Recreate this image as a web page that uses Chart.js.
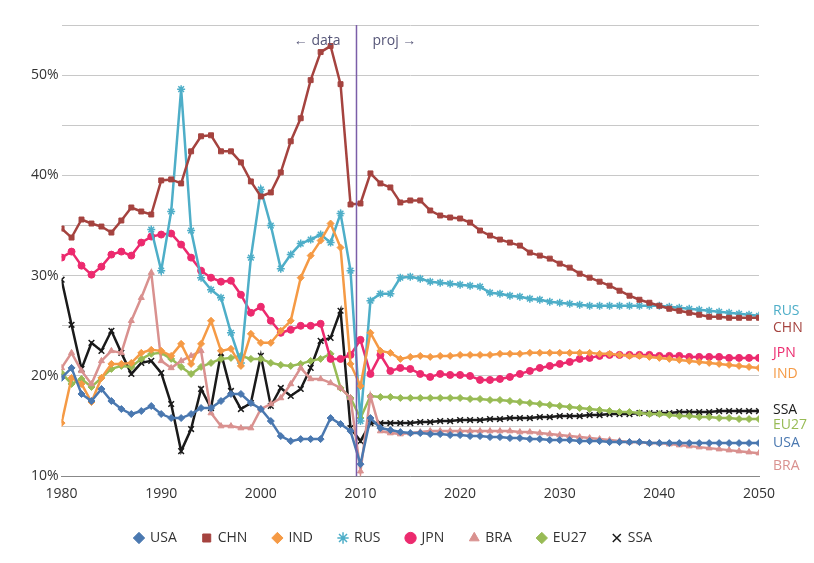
<!DOCTYPE html>
<html lang="en">
<head>
  <meta charset="UTF-8" />
  <title>Shares</title>
  <script src="https://cdn.jsdelivr.net/npm/chart.js"></script>
  <style>
    body { margin: 0; background: #fff; font-family: "Open Sans", Arial, sans-serif; }
    .wrap { position: relative; width: 814px; height: 563px; }
  </style>
</head>
<body>
  <div class="wrap"><canvas id="c"></canvas></div>
  <script>
    // years 1980..2050
    const years = [];
    for (let y = 1980; y <= 2050; y++) years.push(y);

    const usa = [19.8,20.8,18.2,17.5,18.7,17.5,16.7,16.2,16.5,17.0, 16.2,15.8,15.8,16.2,16.8,16.8,17.5,18.2,18.2,17.3, 16.7,15.5,14.0,13.5,13.7,13.7,13.7,15.8,15.2,14.5,
      11.2,15.8,14.8,14.6,14.4,14.3,14.3,14.2,14.2,14.1, 14.1,14.0,14.0,13.9,13.9,13.8,13.8,13.7,13.7,13.6, 13.6,13.6,13.5,13.5,13.5,13.4,13.4,13.4,13.4,13.3, 13.3,13.3,13.3,13.3,13.3,13.3,13.3,13.3,13.3,13.3,13.3];
    const chn = [34.7,33.8,35.6,35.2,34.9,34.3,35.5,36.8,36.4,36.1, 39.5,39.6,39.2,42.4,43.9,44.0,42.4,42.4,41.3,39.4, 37.9,38.3,40.3,43.4,45.7,49.5,52.3,52.9,49.1,37.1,
      37.2,40.2,39.2,38.8,37.3,37.5,37.5,36.5,36.0,35.8, 35.7,35.3,34.5,34.0,33.6,33.3,33.0,32.3,32.0,31.7, 31.2,30.8,30.2,29.8,29.4,29.0,28.5,28.0,27.6,27.3, 27.0,26.7,26.5,26.3,26.1,25.9,25.9,25.8,25.8,25.8,25.8];
    const ind = [15.3,19.8,19.2,17.4,19.8,21.2,21.2,21.3,22.3,22.6, 22.5,22.0,23.2,21.2,23.2,25.5,22.5,22.7,21.0,24.2, 23.3,23.3,24.5,25.5,29.8,32.0,33.5,35.2,32.8,21.2,
      19.0,24.3,22.5,22.3,21.7,21.9,22.0,21.9,22.0,22.0, 22.1,22.1,22.1,22.1,22.2,22.2,22.2,22.3,22.3,22.3, 22.3,22.3,22.3,22.3,22.2,22.2,22.1,22.0,22.0,21.9, 21.8,21.7,21.6,21.5,21.4,21.3,21.2,21.1,21.0,20.9,20.8];
    const rus = [null,null,null,null,null,null,null,null,null,
      34.6,30.5,36.4,48.6,34.5,29.8,28.6,27.8,24.3,21.3,31.8, 38.6,35.0,30.7,32.1,33.2,33.6,34.1,33.3,36.2,30.5,
      15.5,27.5,28.2,28.2,29.8,29.9,29.7,29.4,29.3,29.2, 29.1,29.0,28.9,28.3,28.2,28.0,27.9,27.7,27.6,27.4, 27.3,27.2,27.1,27.0,27.0,27.0,27.0,27.0,27.0,27.0, 27.0,26.9,26.8,26.7,26.6,26.5,26.4,26.3,26.2,26.1,26.0];
    const jpn = [31.8,32.4,31.0,30.1,30.9,32.1,32.4,32.0,33.3,33.9, 34.1,34.2,33.1,31.8,30.5,29.8,29.4,29.5,28.1,26.3, 26.9,25.5,24.3,24.6,25.0,25.0,25.2,21.7,21.7,22.1,
      23.6,20.2,22.1,20.5,20.8,20.7,20.2,19.9,20.2,20.1, 20.1,20.0,19.6,19.6,19.7,19.9,20.2,20.5,20.8,21.0, 21.2,21.4,21.7,21.8,22.0,22.1,22.1,22.1,22.1,22.1, 22.0,22.0,22.0,21.9,21.9,21.9,21.9,21.8,21.8,21.8,21.8];
    const bra = [20.8,22.3,20.5,19.2,21.5,22.5,22.3,25.5,27.8,30.3, 21.5,20.8,21.5,22.0,22.5,16.3,15.0,15.0,14.8,14.8, 16.7,17.2,17.8,19.2,20.8,19.7,19.7,19.3,18.8,17.8,
      10.5,18.0,14.5,14.3,14.2,14.3,14.4,14.5,14.5,14.5, 14.5,14.5,14.5,14.5,14.5,14.5,14.4,14.4,14.3,14.2, 14.1,14.0,13.9,13.8,13.7,13.6,13.5,13.4,13.4,13.3, 13.3,13.2,13.1,13.0,12.9,12.8,12.7,12.6,12.5,12.4,12.3];
    const eu27 = [20.3,19.2,19.7,18.9,19.8,20.7,21.0,20.9,21.7,22.2, 22.3,21.7,20.9,20.2,20.9,21.3,21.7,21.8,22.0,21.7, 21.7,21.3,21.1,21.0,21.2,21.5,21.7,22.2,18.8,17.8,
      15.8,18.0,17.9,17.9,17.8,17.8,17.8,17.8,17.8,17.8, 17.8,17.7,17.7,17.6,17.6,17.5,17.4,17.3,17.2,17.1, 17.0,16.9,16.8,16.7,16.6,16.5,16.4,16.4,16.3,16.2, 16.2,16.1,16.0,16.0,15.9,15.9,15.8,15.8,15.7,15.7,15.7];
    const ssa = [29.6,25.1,20.7,23.3,22.5,24.5,22.3,20.2,21.3,21.5, 20.3,17.2,12.5,14.7,18.7,16.8,22.3,18.5,16.7,17.3, 22.0,17.0,18.8,18.0,18.7,20.8,23.5,23.8,26.5,14.8,
      13.5,15.3,15.3,15.3,15.3,15.3,15.4,15.4,15.5,15.5, 15.6,15.6,15.6,15.7,15.7,15.8,15.8,15.8,15.9,15.9, 16.0,16.0,16.0,16.1,16.1,16.2,16.2,16.2,16.3,16.3, 16.3,16.3,16.4,16.4,16.4,16.4,16.5,16.5,16.5,16.5,16.5];

    // right-hand end labels and the value level each sits at
    const endNames = ['RUS','CHN','JPN','IND','SSA','EU27','USA','BRA'];
    const endLevels = [26.5, 24.8, 22.3, 20.2, 16.6, 15.1, 13.3, 11.0];

    const series = [
      { label: 'USA', data: usa, color: '#4a78b0', style: 'rectRot' },
      { label: 'CHN', data: chn, color: '#a5433f', style: 'rect' },
      { label: 'IND', data: ind, color: '#f59a45', style: 'rectRot' },
      { label: 'RUS', data: rus, color: '#4eaec8', style: 'star' },
      { label: 'JPN', data: jpn, color: '#ec2a6e', style: 'circle' },
      { label: 'BRA', data: bra, color: '#d9918f', style: 'triangle' },
      { label: 'EU27', data: eu27, color: '#98bb55', style: 'rectRot' },
      { label: 'SSA', data: ssa, color: '#1a1a1a', style: 'crossRot' }
    ];
    const colorOf = {};
    series.forEach(s => colorOf[s.label] = s.color);

    // divider between data and projection, plus end labels
    const extras = {
      id: 'extras',
      afterDatasetsDraw(chart) {
        const { ctx, scales: { x, y }, chartArea } = chart;
        const xd = x.getPixelForValue(2009.6);
        ctx.save();
        ctx.strokeStyle = '#7b5ea8';
        ctx.lineWidth = 1.5;
        ctx.beginPath();
        ctx.moveTo(xd, chartArea.top);
        ctx.lineTo(xd, chartArea.bottom);
        ctx.stroke();
        ctx.font = '14px "Open Sans"';
        ctx.fillStyle = '#555577';
        ctx.textBaseline = 'middle';
        ctx.textAlign = 'right';
        ctx.fillText('\u2190 data', xd - 16, chartArea.top + 16);
        ctx.textAlign = 'left';
        ctx.fillText('proj \u2192', xd + 16, chartArea.top + 16);
        endNames.forEach((n, i) => {
          ctx.fillStyle = colorOf[n];
          ctx.fillText(n, chartArea.right + 14, y.getPixelForValue(endLevels[i]));
        });
        ctx.restore();
      }
    };

    new Chart(document.getElementById('c'), {
      type: 'line',
      data: {
        datasets: series.map(s => ({
          label: s.label,
          data: years.map((yr, i) => ({ x: yr, y: s.data[i] })),
          borderColor: s.color,
          backgroundColor: s.color,
          pointStyle: s.style,
          pointRadius: s.style === 'crossRot' || s.style === 'star' ? 4 : 3.5,
          pointBorderWidth: s.style === 'crossRot' || s.style === 'star' ? 1.5 : 1,
          borderWidth: 2.5,
          tension: 0,
          spanGaps: false
        }))
      },
      options: {
        responsive: true,
        maintainAspectRatio: false,
        animation: false,
        layout: { padding: { top: 25, right: 55, left: 28, bottom: 8 } },
        plugins: {
          legend: {
            position: 'bottom',
            labels: { usePointStyle: true, boxWidth: 8, boxHeight: 8, padding: 26, color: '#333', font: { size: 14, family: '"Open Sans"' } }
          },
          tooltip: { enabled: false }
        },
        scales: {
          x: {
            type: 'linear', min: 1980, max: 2050,
            ticks: { stepSize: 10, color: '#333', font: { size: 14, family: '"Open Sans"' }, callback: v => String(v) },
            grid: { display: false, drawTicks: true, tickLength: 6 },
            border: { color: '#888' }
          },
          y: {
            min: 10, max: 55,
            ticks: { stepSize: 5, color: '#333', font: { size: 14, family: '"Open Sans"' },
              callback: v => v % 10 === 0 ? v + '%' : '' },
            grid: { color: '#c8c8c8', drawTicks: false },
            border: { display: false }
          }
        }
      },
      plugins: [extras]
    });
  </script>
</body>
</html>
